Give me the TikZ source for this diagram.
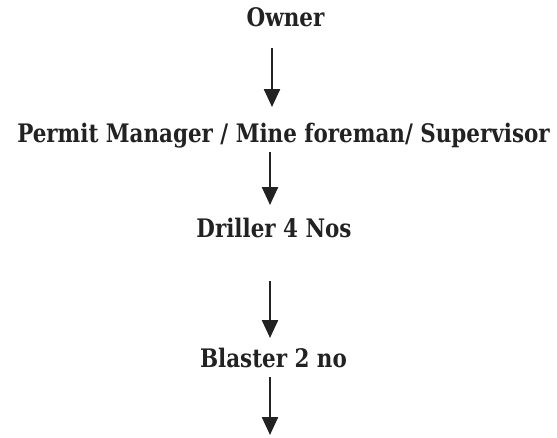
\documentclass[tikz,border=0pt]{standalone}
\usepackage{fontspec}
\setmainfont{DejaVu Serif Condensed}
\usetikzlibrary{arrows.meta}
\definecolor{ink}{HTML}{222222}
\tikzset{
  lbl/.style={inner sep=0pt, anchor=base, text=ink, xscale=0.935, transform shape, font=\fontsize{25.5}{28}\selectfont\bfseries},
  arr/.style={draw=ink, line width=2.4pt, -{Triangle[width=16pt,length=18pt]}}
}
\begin{document}
\begin{tikzpicture}[x=1pt,y=-1pt]
\useasboundingbox (0,0) rectangle (557,437);
\node[lbl] (owner) at (285.5,26) {Owner};
\node[lbl] (permit) at (283.5,142) {Permit Manager / Mine foreman/ Supervisor};
\node[lbl] (driller) at (274,237) {Driller 4 Nos};
\node[lbl] (blaster) at (273.5,367) {Blaster 2 no};
\coordinate (a1s) at (272,48); \coordinate (a1e) at (272,107);
\coordinate (a2s) at (270,152); \coordinate (a2e) at (270,205);
\coordinate (a3s) at (270,281); \coordinate (a3e) at (270,338);
\coordinate (a4s) at (270,377); \coordinate (a4e) at (270,435);
\draw[arr] (a1s) -- (a1e);
\draw[arr] (a2s) -- (a2e);
\draw[arr] (a3s) -- (a3e);
\draw[arr] (a4s) -- (a4e);
\end{tikzpicture}
\end{document}
